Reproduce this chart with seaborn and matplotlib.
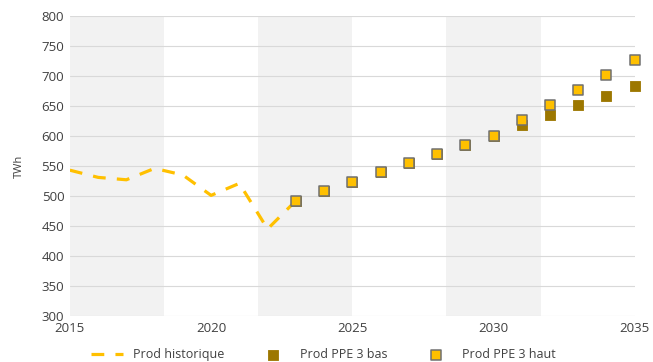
import pandas as pd
import matplotlib.pyplot as plt
import seaborn as sns

# historical production (TWh)
hist_years = [2015, 2016, 2017, 2018, 2019, 2020, 2021, 2022, 2023]
hist_prod = [543, 531, 527, 546, 535, 501, 521, 445, 492]

# PPE 3 scenarios
ppe_years = [2023, 2024, 2025, 2026, 2027, 2028, 2029, 2030, 2031, 2032, 2033, 2034, 2035]
ppe_bas = [492, 509, 524, 540, 555, 570, 585, 600, 618, 635, 651, 667, 684]
ppe_haut = [492, 509, 524, 540, 555, 570, 585, 600, 627, 651, 676, 701, 726]

x_ticks = [2015, 2020, 2025, 2030, 2035]
y_ticks = [300, 350, 400, 450, 500, 550, 600, 650, 700, 750, 800]

df_hist = pd.DataFrame({'annee': hist_years, 'prod': hist_prod})
df_ppe = pd.DataFrame({'annee': ppe_years, 'bas': ppe_bas, 'haut': ppe_haut})

sns.set_style('white')
plt.rcParams['font.family'] = ['Open Sans', 'DejaVu Sans']

fig = plt.figure(figsize=(6.53, 3.62), dpi=100)
ax = fig.add_axes([0.107, 0.127, 0.865, 0.829])

# alternating grey bands
edges = [2015 + i * 20 / 6 for i in range(7)]
for i in range(0, 6, 2):
    ax.axvspan(edges[i], edges[i + 1], color='#F2F2F2', lw=0, zorder=0)

for y in y_ticks:
    ax.axhline(y, color='#D9D9D9', lw=0.8, zorder=1)

sns.lineplot(data=df_hist, x='annee', y='prod', ax=ax, color='#FFC000',
             lw=2.3, dashes=False, zorder=3, label='Prod historique')
ax.lines[-1].set_dashes((4, 3.5))

sns.scatterplot(data=df_ppe, x='annee', y='bas', ax=ax, marker='s', s=55,
                color='#9C7700', edgecolor='#9C7700', linewidth=0.6, zorder=4,
                label='Prod PPE 3 bas', clip_on=False)
sns.scatterplot(data=df_ppe, x='annee', y='haut', ax=ax, marker='s', s=48,
                color='#FFC000', edgecolor='#707070', linewidth=1.1, zorder=5,
                label='Prod PPE 3 haut', clip_on=False)

ax.set_xlim(2015, 2035)
ax.set_ylim(300, 800)
ax.set_xticks(x_ticks)
ax.set_yticks(y_ticks)
ax.tick_params(colors='#404040', labelsize=9.5, length=0, pad=4)
for s in ax.spines.values():
    s.set_visible(False)
ax.set_xlabel('')
ax.set_ylabel('TWh', fontsize=8, color='#404040', labelpad=12)

handles, labels = ax.get_legend_handles_labels()
ax.get_legend().remove()
fig.legend(handles, labels, loc='center', bbox_to_anchor=(0.495, 0.02),
           ncol=3, frameon=False, fontsize=9, labelcolor='#404040',
           columnspacing=2.6, handlelength=2.6, borderpad=0)

fig.savefig('out.png', dpi=100)
